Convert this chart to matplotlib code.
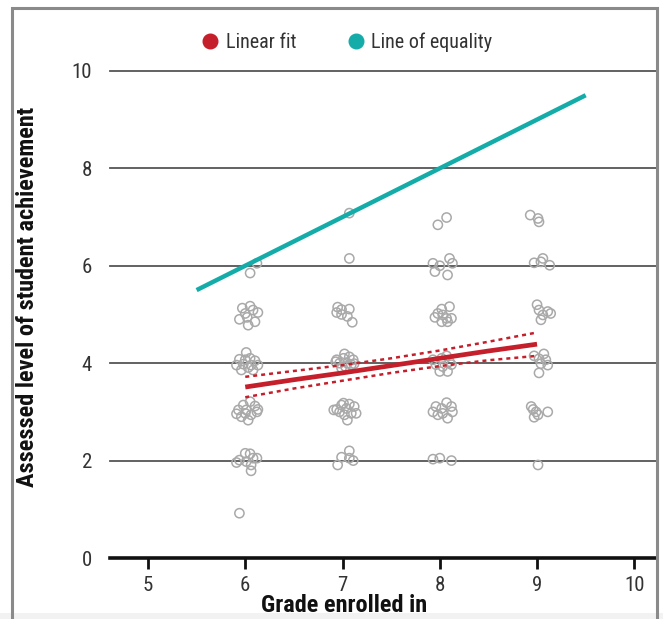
import matplotlib
matplotlib.use("Agg")
import matplotlib.pyplot as plt
from matplotlib.patches import Rectangle
from matplotlib.lines import Line2D

plt.rcParams['font.family'] = ['Roboto Condensed', 'Liberation Sans', 'DejaVu Sans']

# jittered student scores, one group per grade
grade6_x = [5.97, 6.05, 6.08, 6.13, 5.94, 6.02, 6.10, 6.03, 6.00,
            6.01, 5.94, 6.05, 6.10, 5.98, 5.91, 6.13, 6.03, 5.96, 6.08, 6.06, 6.00,
            6.05, 5.98, 6.10, 5.93, 6.01, 6.12, 5.96, 6.06, 6.03, 5.91, 6.00, 6.13,
            6.00, 6.05, 5.94, 6.08, 6.12, 6.01, 5.91, 6.06, 6.06,
            5.94, 6.12, 6.05]
grade6_y = [5.13, 5.17, 5.09, 5.04, 4.90, 4.94, 4.85, 4.78, 5.02,
            4.22, 4.08, 4.10, 4.05, 3.98, 3.96, 3.96, 3.91, 3.86, 3.86, 3.96, 4.07,
            3.21, 3.14, 3.12, 3.04, 3.04, 3.00, 2.90, 2.94, 2.83, 2.96, 2.97, 3.05,
            2.15, 2.14, 2.01, 2.05, 2.05, 1.98, 1.96, 1.91, 1.79,
            0.92, 6.05, 5.85]

grade7_x = [7.07, 7.07,
            6.95, 6.99, 7.07, 6.94, 6.99, 7.05, 7.10,
            7.02, 6.94, 7.01, 7.07, 7.11, 6.97, 7.05, 6.93, 7.03, 7.09, 6.99, 7.12,
            7.01, 7.07, 6.94, 7.04, 7.12, 6.97, 7.09, 7.02, 7.05, 6.91, 7.14, 6.99,
            7.07, 6.99, 7.07, 7.11, 6.95]
grade7_y = [7.08, 6.15,
            5.15, 5.10, 5.11, 5.04, 5.00, 4.96, 4.84,
            4.19, 4.07, 4.10, 4.13, 4.07, 4.00, 4.00, 4.03, 3.93, 3.97, 3.90, 3.99,
            3.18, 3.16, 3.05, 3.07, 3.11, 3.00, 2.97, 2.94, 2.83, 3.04, 2.97, 3.14,
            2.20, 2.07, 2.05, 2.00, 1.91]

grade8_x = [7.98, 8.07,
            7.93, 8.00, 8.10, 8.13, 7.95, 8.08,
            8.02, 8.10, 7.95, 8.03, 8.07, 8.12, 8.02, 8.08, 7.98,
            8.07, 7.93, 8.02, 8.10, 7.96, 8.03, 8.08, 8.00, 8.12,
            8.07, 7.96, 8.02, 8.12, 7.93, 8.03, 8.13, 8.08, 7.98,
            7.93, 8.00, 8.12]
grade8_y = [6.84, 6.99,
            6.05, 6.00, 6.15, 6.05, 5.88, 5.81,
            5.11, 5.16, 4.94, 4.99, 4.92, 4.92, 4.85, 4.85, 5.02,
            4.15, 4.07, 4.10, 4.03, 3.97, 3.93, 3.83, 3.83, 3.97,
            3.19, 3.11, 3.07, 3.11, 3.00, 2.97, 3.00, 2.87, 2.94,
            2.03, 2.05, 2.00]

grade9_x = [8.93, 9.01, 9.02,
            8.97, 9.06, 9.04, 9.13,
            9.00, 9.02, 9.11, 9.06, 9.14, 9.04,
            8.97, 9.07, 9.02, 9.09, 9.04, 9.11, 9.02,
            8.94, 8.96, 8.99, 8.97, 9.11, 9.01,
            9.01]
grade9_y = [7.04, 6.97, 6.90,
            6.06, 6.15, 6.08, 6.01,
            5.20, 5.09, 5.06, 4.99, 5.02, 4.89,
            4.15, 4.19, 4.09, 4.07, 3.99, 3.96, 3.80,
            3.11, 3.05, 3.00, 2.89, 3.00, 2.94,
            1.91]

# linear fit with its confidence band
fit_x = [6.0, 6.5, 7.0, 7.5, 8.0, 8.5, 9.0]
fit_y = [3.51, 3.66, 3.80, 3.95, 4.10, 4.25, 4.39]
ci_half = [0.21, 0.18, 0.16, 0.15, 0.16, 0.19, 0.24]

equality_x = [5.5, 9.5]

red = '#c41f2b'
teal = '#14aca8'
grey_pt = '#a9a9a9'

fig = plt.figure(figsize=(6.63, 6.19), dpi=100)
ax = fig.add_axes([0.166, 0.0985, 0.823, 0.787])

xs = grade6_x + grade7_x + grade8_x + grade9_x
ys = grade6_y + grade7_y + grade8_y + grade9_y
ax.scatter(xs, ys, s=44, facecolors='none', edgecolors=grey_pt, linewidths=1.1, zorder=3)

ax.plot(equality_x, equality_x, color=teal, lw=3.2, solid_capstyle='butt', zorder=4)
ax.plot(fit_x, fit_y, color=red, lw=3.4, solid_capstyle='butt', zorder=5)
lo = [y - h for y, h in zip(fit_y, ci_half)]
hi = [y + h for y, h in zip(fit_y, ci_half)]
ax.plot(fit_x, lo, color=red, lw=1.8, ls=(0, (1.6, 1.6)), zorder=5)
ax.plot(fit_x, hi, color=red, lw=1.8, ls=(0, (1.6, 1.6)), zorder=5)

ax.set_xlim(4.61, 10.22)
ax.set_ylim(0, 10)
ax.set_xticks([5, 6, 7, 8, 9, 10])
ax.set_yticks([0, 2, 4, 6, 8, 10])
for g in [2, 4, 6, 8, 10]:
    ax.axhline(g, color='#555555', lw=1.3, zorder=1, clip_on=False)

for s in ['top', 'right', 'left']:
    ax.spines[s].set_visible(False)
ax.spines['bottom'].set_linewidth(2.6)
ax.spines['bottom'].set_color('#111111')
ax.tick_params(axis='x', length=8, width=2, color='#111111', labelsize=15,
               labelcolor='#333333', pad=5)
ax.tick_params(axis='y', length=0, labelsize=15, labelcolor='#333333', pad=13)

ax.set_xlabel('Grade enrolled in', fontsize=17.5, fontweight='bold', color='#111111')
ax.xaxis.set_label_coords(0.428, -0.074)
ax.set_ylabel('Assessed level of student achievement', fontsize=17.5, fontweight='bold',
              color='#111111')
ax.yaxis.set_label_coords(-0.13, 0.536)

handles = [Line2D([], [], ls='none', marker='o', markersize=10.5, color=red, label='Linear fit'),
           Line2D([], [], ls='none', marker='o', markersize=10.5, color=teal, label='Line of equality')]
fig.legend(handles=handles, loc='center left', bbox_to_anchor=(200 / 663, 1 - 42 / 619),
           ncol=2, frameon=False, fontsize=14.5, borderpad=0, borderaxespad=0,
           handlelength=1.0, handletextpad=0.28, columnspacing=2.45, labelcolor='#333333')

# outer frame and the light band at the bottom
fig.patches.append(Rectangle((0, 0), 1, 6 / 619, transform=fig.transFigure,
                             facecolor='#f2f2f2', edgecolor='none', zorder=0))
fig.patches.append(Rectangle((12 / 663, -0.02), 645 / 663, 1.02 - 8 / 619,
                             transform=fig.transFigure, facecolor='none',
                             edgecolor='#8a8a8a', lw=2.2, zorder=10))

fig.savefig('out.png', dpi=100)
